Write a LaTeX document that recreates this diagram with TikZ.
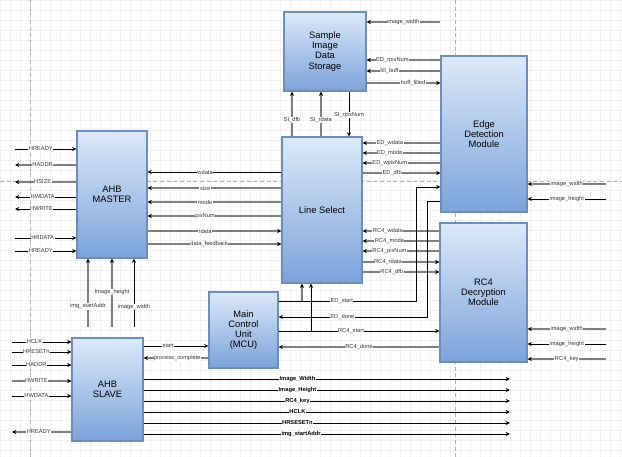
\documentclass[tikz,border=0pt]{standalone}
\usepackage{fontspec}
\setmainfont{Liberation Sans}
\usetikzlibrary{arrows.meta,calc}
\definecolor{modtop}{HTML}{DCE9F9}
\definecolor{modbot}{HTML}{7BA3DA}
\definecolor{modline}{HTML}{6C8EBF}
\definecolor{wire}{HTML}{7F7F7F}

\begin{document}
\begin{tikzpicture}[x=0.75pt, y=-0.75pt,
  module/.style={draw=modline, line width=0.8pt, top color=modtop, bottom color=modbot, align=center, inner sep=0pt, font=\fontsize{7}{7.6}\selectfont},
  sig/.style={draw=black, line width=0.7pt, -{Stealth[length=3.2pt, width=3pt, color=black]}},
  gsig/.style={draw=wire, line width=1.2pt, -{Stealth[length=3.2pt, width=3pt, color=black]}},
  lbl/.style={fill=white, inner sep=0.4pt, text=black!80, font=\fontsize{4.3}{5}\selectfont},
  blbl/.style={lbl, text=black, font=\fontsize{4.3}{5}\selectfont\bfseries}]
  \fill[white] (0,0) rectangle (622,457);
  \useasboundingbox (0,0) rectangle (622,457);
  \draw[gray!12, line width=0.3pt, step=7.5pt] (0,0) grid (622,457);
  \draw[gray!60, line width=0.4pt, dash pattern=on 3pt off 2pt] (30,0) -- (30,457);
  \draw[gray!60, line width=0.4pt, dash pattern=on 3pt off 2pt] (455,0) -- (455,457);
  \draw[gray!60, line width=0.4pt, dash pattern=on 3pt off 2pt] (0,181) -- (622,181);
  % modules
  \node[module, minimum width=52.5pt, minimum height=95.25pt] (master) at (112,194.5) {AHB\\MASTER};
  \node[module, minimum width=61.5pt, minimum height=59.25pt] (sids) at (325,51.5) {Sample\\Image\\Data\\Storage};
  \node[module, minimum width=60pt, minimum height=109.5pt] (lsel) at (322,210) {Line Select};
  \node[module, minimum width=64.5pt, minimum height=117pt] (edge) at (484,134) {Edge\\Detection\\Module};
  \node[module, minimum width=65.25pt, minimum height=104.25pt] (rc4) at (483.5,292.5) {RC4\\Decryption\\Module};
  \node[module, minimum width=51.75pt, minimum height=57pt] (mcu) at (243.5,330) {Main\\Control\\Unit\\(MCU)};
  \node[module, minimum width=53.25pt, minimum height=77.25pt] (slave) at (107.5,389.5) {AHB\\SLAVE};
  % free ends
  \coordinate (mfree) at (15,0);
  \coordinate (mbot) at (0,327);
  \coordinate (sfree) at (440,0);
  \coordinate (rfree) at (606,0);
  \coordinate (lfree) at (12,0);
  \coordinate (ofree) at (510,0);
  \coordinate (edup) at (416,187);
  \coordinate (eddn) at (427,201);
  \coordinate (edtap) at (302,301);
  \coordinate (rctap) at (311,331);
  % AHB master, bus side
  \draw[sig] (mfree |- 0,149) -- node[lbl, pos=0.42] {HREADY} (master.west |- 0,149);
  \draw[gsig] (master.west |- 0,165) -- node[lbl, pos=0.55] {HADDR} (mfree |- 0,165);
  \draw[gsig] (master.west |- 0,182) -- node[lbl, pos=0.55] {HSIZE} (mfree |- 0,182);
  \draw[sig] (master.west |- 0,197) -- node[lbl, pos=0.55] {HWDATA} (mfree |- 0,197);
  \draw[sig] (master.west |- 0,209) -- node[lbl, pos=0.57] {HWRITE} (mfree |- 0,209);
  \draw[sig] (mfree |- 0,238) -- node[lbl, pos=0.45] {HRDATA} (master.west |- 0,238);
  \draw[sig] (mfree |- 0,251) -- node[lbl, pos=0.42] {HREADY} (master.west |- 0,251);
  % AHB master <-> line select
  \draw[sig] (lsel.west |- 0,172) -- node[lbl, pos=0.57] {wdata} (master.east |- 0,172);
  \draw[gsig] (lsel.west |- 0,188) -- node[lbl, pos=0.57] {size} (master.east |- 0,188);
  \draw[gsig] (lsel.west |- 0,202) -- node[lbl, pos=0.57] {mode} (master.east |- 0,202);
  \draw[gsig] (lsel.west |- 0,216) -- node[lbl, pos=0.57] {pixNum} (master.east |- 0,216);
  \draw[gsig] (master.east |- 0,231) -- node[lbl, pos=0.43] {rdata} (lsel.west |- 0,231);
  \draw[gsig] (master.east |- 0,244) -- node[lbl, pos=0.46] {data\_feedback} (lsel.west |- 0,244);
  % AHB master, configuration
  \draw[gsig] (mbot -| 88,0) -- node[lbl, pos=0.3] {img\_startAddr} (master.south -| 88,0);
  \draw[gsig] (mbot -| 112,0) -- node[lbl, pos=0.51] {Image\_height} (master.south -| 112,0);
  \draw[sig] (mbot -| 134,0) -- node[lbl, pos=0.29] {image\_width} (master.south -| 134,0);
  % sample image data storage
  \draw[gsig] (sfree |- 0,22) -- node[lbl] {image\_width} (sids.east |- 0,22);
  \draw[gsig] (edge.west |- 0,60) -- node[lbl, pos=0.65] {ED\_rpixNum} (sids.east |- 0,60);
  \draw[gsig] (edge.west |- 0,71) -- node[lbl, pos=0.69] {fill\_buff} (sids.east |- 0,71);
  \draw[gsig] (sids.east |- 0,83) -- node[lbl, pos=0.63] {buff\_filled} (edge.west |- 0,83);
  \draw[gsig] (lsel.north -| 292,0) -- node[lbl, pos=0.37] {SI\_dfb} (sids.south -| 292,0);
  \draw[gsig] (lsel.north -| 321,0) -- node[lbl, pos=0.37] {SI\_rdata} (sids.south -| 321,0);
  \draw[sig] (sids.south -| 349,0) -- node[lbl, pos=0.52] {SI\_rpixNum} (lsel.north -| 349,0);
  % line select <-> edge detection
  \draw[gsig] (edge.west |- 0,143) -- node[lbl, pos=0.65] {ED\_wdata} (lsel.east |- 0,143);
  \draw[gsig] (edge.west |- 0,153) -- node[lbl, pos=0.65] {ED\_mode} (lsel.east |- 0,153);
  \draw[gsig] (edge.west |- 0,163) -- node[lbl, pos=0.65] {ED\_wpixNum} (lsel.east |- 0,163);
  \draw[gsig] (lsel.east |- 0,173) -- node[lbl, pos=0.38] {ED\_dfb} (edge.west |- 0,173);
  % line select <-> RC4
  \draw[gsig] (rc4.west |- 0,231) -- node[lbl, pos=0.67] {RC4\_wdata} (lsel.east |- 0,231);
  \draw[gsig] (rc4.west |- 0,241) -- node[lbl, pos=0.65] {RC4\_mode} (lsel.east |- 0,241);
  \draw[gsig] (rc4.west |- 0,251) -- node[lbl, pos=0.65] {RC4\_pixNum} (lsel.east |- 0,251);
  \draw[gsig] (lsel.east |- 0,262) -- node[lbl, pos=0.33] {RC4\_rdata} (rc4.west |- 0,262);
  \draw[gsig] (lsel.east |- 0,272) -- node[lbl, pos=0.38] {RC4\_dfb} (rc4.west |- 0,272);
  % MCU control
  \draw[sig] (mcu.east |- edtap) -- node[lbl, pos=0.46] {ED\_start} (edup |- edtap) -- (edup) -- (edge.west |- edup);
  \draw[gsig] (edtap) -- (lsel.south -| edtap);
  \draw[sig] (edge.west |- eddn) -- (eddn) -- (eddn |- 0,317) -- node[lbl, pos=0.57] {ED\_done} (mcu.east |- 0,317);
  \draw[sig] (mcu.east |- rctap) -- node[lbl, pos=0.45] {RC4\_start} (rc4.west |- rctap);
  \draw[sig] (rctap) -- (lsel.south -| rctap);
  \draw[gsig] (rc4.west |- 0,347) -- node[lbl, pos=0.5] {RC4\_done} (mcu.east |- 0,347);
  % module inputs
  \draw[gsig] (rfree |- 0,184) -- node[lbl] {image\_width} (edge.east |- 0,184);
  \draw[sig] (rfree |- 0,199) -- node[lbl] {image\_height} (edge.east |- 0,199);
  \draw[gsig] (rfree |- 0,329) -- node[lbl] {image\_width} (rc4.east |- 0,329);
  \draw[sig] (rfree |- 0,344) -- node[lbl] {image\_height} (rc4.east |- 0,344);
  \draw[gsig] (rfree |- 0,359) -- node[lbl] {RC4\_key} (rc4.east |- 0,359);
  % AHB slave <-> MCU
  \draw[sig] (slave.east |- 0,346) -- node[lbl, pos=0.38] {start} (mcu.west |- 0,346);
  \draw[gsig] (mcu.west |- 0,358) -- node[lbl, pos=0.48] {process\_complete} (slave.east |- 0,358);
  % AHB slave, bus side
  \draw[sig] (lfree |- 0,342) -- node[lbl, pos=0.38] {HCLK} (slave.west |- 0,342);
  \draw[sig] (lfree |- 0,352) -- node[lbl, pos=0.41] {HRESETn} (slave.west |- 0,352);
  \draw[sig] (lfree |- 0,365) -- node[lbl, pos=0.41] {HADDR} (slave.west |- 0,365);
  \draw[gsig] (lfree |- 0,381) -- node[lbl, pos=0.41] {HWRITE} (slave.west |- 0,381);
  \draw[sig] (lfree |- 0,396) -- node[lbl, pos=0.41] {HWDATA} (slave.west |- 0,396);
  \draw[gsig] (slave.west |- 0,432) -- node[lbl, pos=0.55] {HREADY} (lfree |- 0,432);
  % AHB slave, configuration outputs
  \draw[sig] (slave.east |- 0,379) -- node[blbl, pos=0.42] {Image\_Width} (ofree |- 0,379);
  \draw[sig] (slave.east |- 0,390) -- node[blbl, pos=0.42] {Image\_Height} (ofree |- 0,390);
  \draw[sig] (slave.east |- 0,401) -- node[blbl, pos=0.42] {RC4\_key} (ofree |- 0,401);
  \draw[sig] (slave.east |- 0,412) -- node[blbl, pos=0.42] {HCLK} (ofree |- 0,412);
  \draw[sig] (slave.east |- 0,423) -- node[blbl, pos=0.42] {HRSESETn} (ofree |- 0,423);
  \draw[sig] (slave.east |- 0,434) -- node[blbl, pos=0.43] {img\_startAddr} (ofree |- 0,434);
\end{tikzpicture}
\end{document}
